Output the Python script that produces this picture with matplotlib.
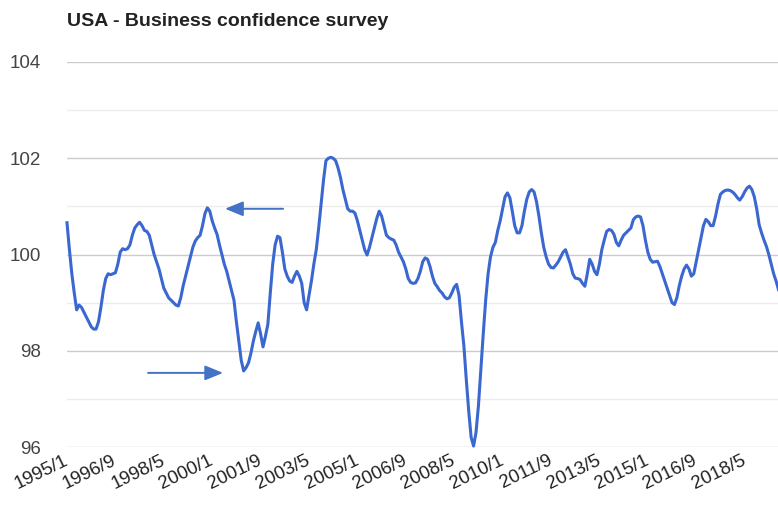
import matplotlib
matplotlib.use("Agg")
import matplotlib.pyplot as plt
import numpy as np

title = "USA - Business confidence survey"
start_year, start_month = 1995, 1

values = [
    100.66, 100.1, 99.6, 99.2, 98.85, 98.95, 98.9, 98.8, 98.7, 98.6,
    98.5, 98.45, 98.45, 98.6, 98.9, 99.25, 99.5, 99.6, 99.58, 99.6,
    99.62, 99.8, 100.05, 100.12, 100.1, 100.12, 100.2, 100.4, 100.55, 100.62,
    100.67, 100.6, 100.5, 100.48, 100.4, 100.2, 100.0, 99.85, 99.7, 99.5,
    99.3, 99.2, 99.1, 99.05, 99.0, 98.95, 98.93, 99.1, 99.35, 99.55,
    99.75, 99.95, 100.15, 100.28, 100.35, 100.4, 100.6, 100.85, 100.97, 100.9,
    100.7, 100.55, 100.42, 100.2, 100.0, 99.8, 99.65, 99.45, 99.25, 99.05,
    98.6, 98.2, 97.8, 97.58, 97.65, 97.75, 97.95, 98.2, 98.4, 98.58,
    98.35, 98.08, 98.3, 98.55, 99.2, 99.8, 100.2, 100.38, 100.35, 100.05,
    99.7, 99.55, 99.45, 99.42, 99.55, 99.65, 99.55, 99.4, 99.0, 98.85,
    99.15, 99.45, 99.8, 100.1, 100.55, 101.05, 101.55, 101.95, 102.0, 102.02,
    102.0, 101.95, 101.8, 101.6, 101.35, 101.15, 100.95, 100.9, 100.9, 100.86,
    100.7, 100.5, 100.3, 100.1, 99.99, 100.15, 100.35, 100.55, 100.75, 100.9,
    100.8, 100.6, 100.4, 100.35, 100.32, 100.3, 100.2, 100.05, 99.95, 99.85,
    99.7, 99.5, 99.42, 99.4, 99.41, 99.5, 99.65, 99.85, 99.93, 99.9,
    99.75, 99.55, 99.4, 99.33, 99.25, 99.2, 99.12, 99.08, 99.1, 99.2,
    99.32, 99.38, 99.15, 98.6, 98.1, 97.4, 96.75, 96.2, 96.02, 96.3,
    96.85, 97.6, 98.35, 99.05, 99.6, 99.95, 100.15, 100.25, 100.5, 100.7,
    100.95, 101.2, 101.28, 101.18, 100.9, 100.6, 100.45, 100.45, 100.6, 100.9,
    101.15, 101.3, 101.35, 101.3, 101.1, 100.8, 100.45, 100.15, 99.95, 99.8,
    99.73, 99.72, 99.78, 99.85, 99.95, 100.05, 100.1, 99.95, 99.8, 99.6,
    99.51, 99.5, 99.48, 99.4, 99.34, 99.6, 99.9, 99.8, 99.65, 99.58,
    99.8, 100.1, 100.3, 100.48, 100.52, 100.5, 100.42, 100.25, 100.18, 100.3,
    100.4, 100.45, 100.5, 100.55, 100.72, 100.78, 100.8, 100.78, 100.6, 100.3,
    100.05, 99.9, 99.84, 99.85, 99.86, 99.75, 99.6, 99.45, 99.3, 99.15,
    99.0, 98.96, 99.1, 99.35, 99.55, 99.7, 99.78, 99.7, 99.55, 99.6,
    99.85, 100.1, 100.35, 100.6, 100.73, 100.68, 100.6, 100.6, 100.8, 101.05,
    101.25, 101.3, 101.33, 101.34, 101.33, 101.3, 101.25, 101.18, 101.13, 101.2,
    101.3, 101.38, 101.42, 101.35, 101.2, 100.95, 100.62, 100.45, 100.3, 100.17,
    100.0, 99.8, 99.6, 99.45, 99.27,
]

tick_labels = ["1995/1", "1996/9", "1998/5", "2000/1", "2001/9", "2003/5", "2005/1",
               "2006/9", "2008/5", "2010/1", "2011/9", "2013/5", "2015/1", "2016/9",
               "2018/5"]
y_ticks = [96, 98, 100, 102, 104]
y_minor = [97, 99, 101, 103]

# annotation arrows (month index, value)
arrow_peak = {"tip": (65.3, 100.95), "tail": (89.3, 100.95)}
arrow_trough = {"tip": (64.5, 97.54), "tail": (33.5, 97.54)}


def month_index(label):
    y, m = label.split("/")
    return (int(y) - start_year) * 12 + (int(m) - start_month)


x = np.arange(len(values))
tick_pos = [month_index(t) for t in tick_labels]

fig = plt.figure(figsize=(7.78, 5.12), dpi=100)
ax = fig.add_axes([67 / 778, (512 - 447) / 512, 1 - 67 / 778, (447 - 62) / 512])

for yv in y_minor:
    ax.axhline(yv, color="#ececec", lw=1.0, zorder=0)
for yv in y_ticks:
    ax.axhline(yv, color="#cccccc", lw=1.0, zorder=0)

ax.plot(x, values, color="#3a68d0", lw=2.2, solid_joinstyle="round", zorder=3,
        clip_on=False)

ax.set_xlim(0, 293.8)
ax.set_ylim(96, 104)
ax.set_yticks(y_ticks)
ax.set_yticklabels([str(v) for v in y_ticks], fontsize=13.5, color="#444444",
                   family="Liberation Sans")
ax.set_xticks(tick_pos)
ax.set_xticklabels(tick_labels, rotation=26, ha="right", va="center",
                   rotation_mode="anchor", fontsize=13.5, color="#222222",
                   family="Liberation Sans")
ax.tick_params(axis="both", length=0)
ax.tick_params(axis="y", pad=19)
ax.tick_params(axis="x", pad=9)
for s in ax.spines.values():
    s.set_visible(False)

for arr in (arrow_peak, arrow_trough):
    ax.annotate("", xy=arr["tip"], xytext=arr["tail"],
                arrowprops=dict(arrowstyle="-|>,head_length=1.1,head_width=0.45",
                                color="#4472c4", lw=1.4, shrinkA=0, shrinkB=0),
                zorder=4)

fig.text(67 / 778, 1 - 21 / 512, title, fontsize=14, fontweight="bold",
         family="Liberation Sans", color="#222222", va="center", ha="left")

fig.savefig("out.png", dpi=100)
